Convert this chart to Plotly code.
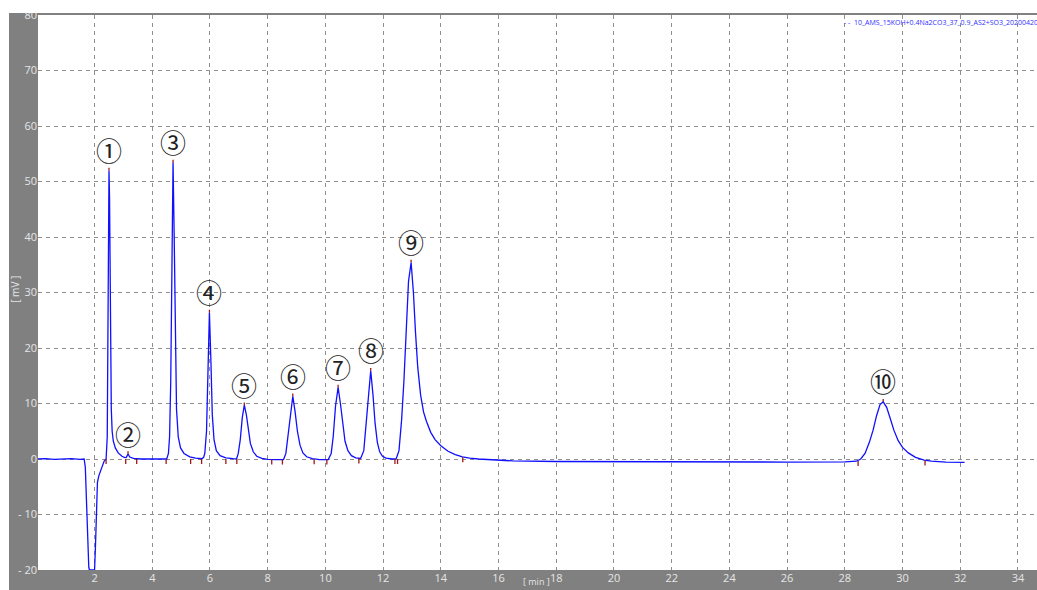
import plotly.graph_objects as go

# ---- chromatogram trace (time in min, signal in mV) ----
time_min = [
    0.00, 0.30, 0.60, 0.90, 1.20, 1.50, 1.64, 1.68, 1.72, 1.76, 1.80, 1.82,
    2.00, 2.03, 2.06, 2.10, 2.15, 2.20, 2.27, 2.33, 2.40,
    2.44, 2.46, 2.48, 2.50, 2.52, 2.54, 2.56, 2.58, 2.61, 2.65, 2.72, 2.82, 2.95, 3.05,
    3.10, 3.16, 3.22, 3.35, 3.60, 4.00, 4.30,
    4.50, 4.56, 4.60, 4.64, 4.68, 4.72, 4.76, 4.80, 4.84, 4.90, 4.98, 5.10, 5.30, 5.50, 5.72,
    5.78, 5.82, 5.88, 5.93, 5.98, 6.03, 6.08, 6.14, 6.22, 6.35, 6.55, 6.80, 6.92,
    6.98, 7.05, 7.12, 7.19, 7.26, 7.33, 7.40, 7.50, 7.62, 7.80, 8.00, 8.30, 8.55,
    8.63, 8.70, 8.78, 8.87, 8.95, 9.03, 9.12, 9.22, 9.35, 9.55, 9.80, 10.10,
    10.20, 10.27, 10.35, 10.44, 10.52, 10.60, 10.68, 10.78, 10.90, 11.05, 11.22,
    11.33, 11.40, 11.48, 11.57, 11.65, 11.72, 11.80, 11.88, 11.98, 12.10, 12.30, 12.45,
    12.55, 12.64, 12.72, 12.80, 12.88, 12.97, 13.05, 13.12, 13.20, 13.30, 13.40, 13.50,
    13.65, 13.80, 14.00, 14.25, 14.50, 14.75, 15.00, 15.30,
    15.80, 16.50, 18.00, 20.00, 22.00, 24.00, 26.00, 28.00, 28.40,
    28.55, 28.70, 28.85, 28.98, 29.10, 29.22, 29.33, 29.45, 29.58, 29.70, 29.85, 30.00,
    30.20, 30.45, 30.75, 31.00, 31.50, 32.15,
]
signal_mv = [
    0.0, 0.05, -0.05, 0.0, 0.05, -0.05, 0.0, -1.5, -8.0, -15.0, -19.5, -20.0,
    -20.0, -16.0, -9.0, -4.2, -3.0, -2.3, -1.3, -0.4, 0.0,
    4.0, 20.0, 44.0, 52.0, 47.0, 33.0, 18.0, 9.0, 5.0, 3.2, 2.0, 1.1, 0.5, 0.25,
    0.3, 0.9, 0.35, 0.1, 0.0, 0.0, 0.05,
    0.0, 1.0, 4.0, 14.0, 35.0, 53.4, 40.0, 20.0, 9.0, 4.0, 2.0, 1.0, 0.4, 0.15, 0.05,
    0.3, 1.0, 5.0, 14.0, 26.4, 18.0, 8.0, 3.5, 1.5, 0.6, 0.2, 0.05, 0.0,
    1.0, 3.5, 7.5, 9.7, 8.0, 5.0, 2.8, 1.3, 0.5, 0.1, -0.05, -0.1, -0.1,
    1.0, 4.0, 8.5, 11.3, 8.5, 5.0, 2.5, 1.1, 0.4, 0.05, -0.1, -0.1,
    1.0, 4.0, 9.5, 12.9, 10.0, 6.0, 3.2, 1.5, 0.6, 0.2, 0.1,
    1.5, 5.5, 11.5, 15.9, 11.5, 6.5, 3.0, 1.3, 0.5, 0.15, 0.0, 0.0,
    1.5, 7.0, 14.0, 24.0, 32.0, 35.4, 30.0, 23.0, 16.5, 11.5, 8.5, 6.8,
    4.8, 3.5, 2.4, 1.4, 0.8, 0.4, 0.15, 0.0,
    -0.2, -0.35, -0.45, -0.5, -0.55, -0.6, -0.55, -0.5, -0.4,
    0.0, 1.0, 3.0, 5.2, 7.8, 9.8, 10.3, 9.3, 7.2, 5.2, 3.3, 2.1,
    1.1, 0.3, -0.2, -0.4, -0.55, -0.6,
]

# ---- peaks (apex) ----
peak_labels = ["①", "②", "③", "④", "⑤", "⑥", "⑦", "⑧", "⑨", "⑩"]
peak_times = [2.50, 3.16, 4.72, 5.98, 7.19, 8.87, 10.44, 11.57, 12.97, 29.33]
peak_heights = [52.0, 0.9, 53.4, 26.4, 9.7, 11.3, 12.9, 15.9, 35.4, 10.3]

# ---- integration start/end events ----
event_times = [2.40, 3.08, 3.46, 4.48, 5.33, 5.71, 6.55, 6.93, 8.14, 8.51, 9.61,
               10.05, 11.16, 12.41, 12.50, 14.76, 28.46, 30.78]
event_values = [0.0, 0.0, 0.0, 0.0, 0.0, 0.0, 0.0, 0.0, -0.1, -0.1, -0.05,
                -0.1, 0.1, 0.0, 0.0, 0.3, -0.35, -0.25]

x_ticks = list(range(2, 35, 2))
y_ticks = [-20, -10, 0, 10, 20, 30, 40, 50, 60, 70, 80]
y_ticktext = ["- 20", "- 10", "0", "10", "20", "30", "40", "50", "60", "70", "80"]

sample_name = "10_AMS_15KOH+0.4Na2CO3_37_0.9_AS2+SO3_20200420"

GRAY = "#808080"
LABEL = "#e6e6e6"

fig = go.Figure()

fig.add_trace(go.Scatter(
    x=time_min, y=signal_mv, mode="lines",
    line=dict(color="#1010ff", width=1.3),
    name=sample_name, showlegend=False, hoverinfo="skip",
))

# integration event ticks (hang below baseline)
fig.add_trace(go.Scatter(
    x=event_times, y=event_values, mode="markers",
    marker=dict(size=1, color="rgba(0,0,0,0)"),
    error_y=dict(type="data", symmetric=False, array=[0] * len(event_times),
                 arrayminus=[0.9] * len(event_times), width=0,
                 color="#a01818", thickness=1.3),
    showlegend=False, hoverinfo="skip",
))
# apex ticks
fig.add_trace(go.Scatter(
    x=peak_times, y=peak_heights, mode="markers",
    marker=dict(size=1, color="rgba(0,0,0,0)"),
    error_y=dict(type="data", symmetric=False, array=[0.5] * len(peak_times),
                 arrayminus=[0] * len(peak_times), width=0,
                 color="#a01818", thickness=1.3),
    showlegend=False, hoverinfo="skip",
))

for lab, t, h in zip(peak_labels, peak_times, peak_heights):
    fig.add_annotation(
        x=t, y=h, text=lab, showarrow=False, yshift=21,
        xanchor="center", yanchor="middle",
        font=dict(family="Noto Sans CJK JP", size=26, color="#222222"),
    )

grid = dict(showgrid=True, gridcolor="#8f8f8f", gridwidth=1, griddash="4px,4px",
            zeroline=False, showline=False, ticks="",
            tickfont=dict(family="Open Sans", size=11, color=LABEL))

fig.update_xaxes(range=[0.04, 34.66], tickvals=x_ticks, ticklen=0, **grid)
fig.update_yaxes(range=[-20, 80], tickvals=y_ticks, ticktext=y_ticktext, **grid)

W, H = 1037, 590
L, R, T, B = 38, 0, 15, 20
pw, ph = W - L - R, H - T - B

# axis unit labels
fig.add_annotation(xref="paper", yref="paper", x=-0.023, y=0.505, text="[ mV ]",
                   textangle=-90, showarrow=False, xanchor="center", yanchor="middle",
                   font=dict(family="Open Sans", size=10, color=LABEL))
fig.add_annotation(xref="paper", yref="paper", x=(536 - L) / pw, y=-B / ph, text="[ min ]",
                   showarrow=False, xanchor="center", yanchor="bottom",
                   font=dict(family="Open Sans", size=9, color=LABEL))

# sample legend text
fig.add_annotation(xref="paper", yref="paper", x=0.805, y=0.987,
                   text="- -  " + sample_name, showarrow=False,
                   xanchor="left", yanchor="middle",
                   font=dict(family="Open Sans", size=7, color="#3030ff"))

# white page outside the gray instrument frame
fig.add_shape(type="rect", xref="paper", yref="paper",
              x0=-L / pw, x1=(9 - L) / pw, y0=-B / ph - 0.01, y1=1 + T / ph + 0.01,
              fillcolor="white", line=dict(width=0), layer="above")
fig.add_shape(type="rect", xref="paper", yref="paper",
              x0=-L / pw, x1=1.01, y0=1 + (T - 13) / ph, y1=1 + T / ph + 0.01,
              fillcolor="white", line=dict(width=0), layer="above")

fig.update_layout(
    width=W, height=H,
    margin=dict(l=L, r=R, t=T, b=B, pad=0),
    paper_bgcolor=GRAY, plot_bgcolor="white",
    showlegend=False,
)

fig.write_html(
    "out.html",
    config={"displayModeBar": False},
    post_script="document.body.style.margin='0';document.body.style.overflow='hidden';",
)
